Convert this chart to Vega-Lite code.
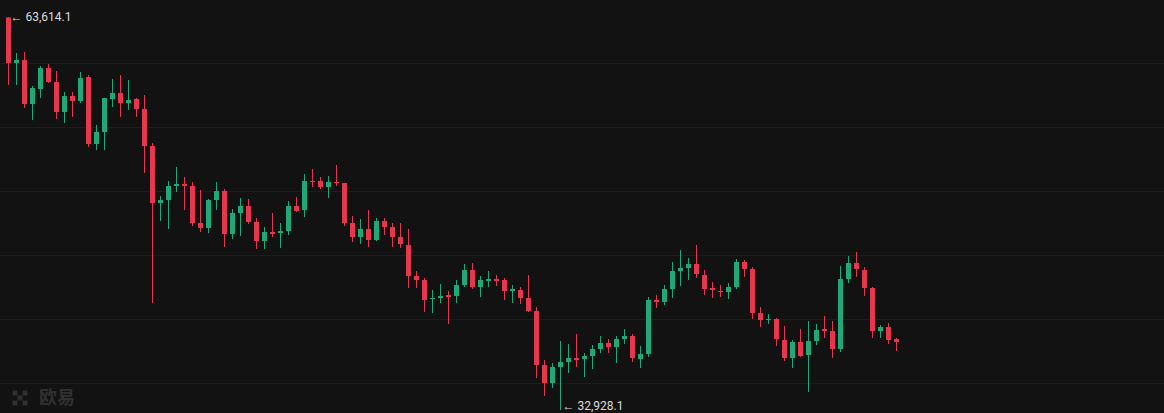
{
  "$schema": "https://vega.github.io/schema/vega-lite/v6.json",
  "width": 1164,
  "height": 413,
  "padding": 0,
  "autosize": {"type": "none"},
  "background": "#121212",
  "config": {"view": {"stroke": null}},
  "datasets": {
    "k": [
      {"i":0,"o":63600,"h":63614.1,"l":58320,"c":60039},
      {"i":1,"o":60039,"h":60820,"l":58320,"c":60274},
      {"i":2,"o":60274,"h":60899,"l":56524,"c":56836},
      {"i":3,"o":56836,"h":58242,"l":55586,"c":58086},
      {"i":4,"o":58008,"h":59805,"l":57305,"c":59649},
      {"i":5,"o":59649,"h":59961,"l":58477,"c":58555},
      {"i":6,"o":58555,"h":59414,"l":55664,"c":56211},
      {"i":7,"o":56211,"h":57774,"l":55352,"c":57461},
      {"i":8,"o":57461,"h":57774,"l":55820,"c":57070},
      {"i":9,"o":57070,"h":59336,"l":56914,"c":58867},
      {"i":10,"o":58945,"h":59102,"l":53477,"c":53711},
      {"i":11,"o":53711,"h":55195,"l":53242,"c":54649},
      {"i":12,"o":54649,"h":57320,"l":53242,"c":57305},
      {"i":13,"o":57227,"h":58789,"l":56602,"c":57695},
      {"i":14,"o":57695,"h":59102,"l":55820,"c":56914},
      {"i":15,"o":56914,"h":58711,"l":56367,"c":57149},
      {"i":16,"o":57227,"h":57305,"l":55820,"c":56445},
      {"i":17,"o":56445,"h":57539,"l":51445,"c":53555},
      {"i":18,"o":53555,"h":53789,"l":41289,"c":49102},
      {"i":19,"o":49102,"h":49649,"l":47695,"c":49336},
      {"i":20,"o":49336,"h":50820,"l":47070,"c":50430},
      {"i":21,"o":50430,"h":51914,"l":49961,"c":50586},
      {"i":22,"o":50586,"h":51133,"l":48555,"c":50430},
      {"i":23,"o":50430,"h":50742,"l":47305,"c":47539},
      {"i":24,"o":47539,"h":50117,"l":46836,"c":47149},
      {"i":25,"o":47149,"h":49414,"l":46758,"c":49336},
      {"i":26,"o":49336,"h":50742,"l":48555,"c":50039},
      {"i":27,"o":50039,"h":50195,"l":45664,"c":46680},
      {"i":28,"o":46680,"h":48633,"l":46289,"c":48320},
      {"i":29,"o":48320,"h":49492,"l":46524,"c":48867},
      {"i":30,"o":48867,"h":49414,"l":47461,"c":47617},
      {"i":31,"o":47617,"h":47930,"l":45508,"c":46133},
      {"i":32,"o":46133,"h":47227,"l":45508,"c":46836},
      {"i":33,"o":46836,"h":48320,"l":46445,"c":46680},
      {"i":34,"o":46758,"h":47539,"l":45586,"c":46914},
      {"i":35,"o":46914,"h":49258,"l":46602,"c":48867},
      {"i":36,"o":48867,"h":49570,"l":48399,"c":48477},
      {"i":37,"o":48555,"h":51367,"l":48008,"c":50820},
      {"i":38,"o":50820,"h":51758,"l":50352,"c":50742},
      {"i":39,"o":50820,"h":51133,"l":50195,"c":50352},
      {"i":40,"o":50352,"h":51211,"l":49492,"c":50742},
      {"i":41,"o":50742,"h":52070,"l":50430,"c":50664},
      {"i":42,"o":50664,"h":50680,"l":47305,"c":47539},
      {"i":43,"o":47539,"h":48086,"l":46055,"c":46445},
      {"i":44,"o":46445,"h":47852,"l":45899,"c":47070},
      {"i":45,"o":47070,"h":48555,"l":45664,"c":46211},
      {"i":46,"o":46211,"h":47930,"l":46133,"c":47695},
      {"i":47,"o":47695,"h":47930,"l":46602,"c":47227},
      {"i":48,"o":47227,"h":47539,"l":45664,"c":46445},
      {"i":49,"o":46445,"h":47539,"l":45586,"c":45899},
      {"i":50,"o":45820,"h":47070,"l":42461,"c":43399},
      {"i":51,"o":43399,"h":43789,"l":42461,"c":43086},
      {"i":52,"o":43086,"h":43242,"l":40586,"c":41524},
      {"i":53,"o":41602,"h":42305,"l":40508,"c":41680},
      {"i":54,"o":41680,"h":42774,"l":41289,"c":41836},
      {"i":55,"o":41914,"h":42227,"l":39649,"c":41758},
      {"i":56,"o":41836,"h":43086,"l":41289,"c":42695},
      {"i":57,"o":42695,"h":44336,"l":42539,"c":43867},
      {"i":58,"o":43867,"h":44414,"l":42383,"c":42539},
      {"i":59,"o":42539,"h":43399,"l":41758,"c":43086},
      {"i":60,"o":43008,"h":43789,"l":42539,"c":43164},
      {"i":61,"o":43164,"h":43477,"l":42617,"c":43008},
      {"i":62,"o":43086,"h":43242,"l":41524,"c":42227},
      {"i":63,"o":42227,"h":42695,"l":41289,"c":42383},
      {"i":64,"o":42305,"h":42539,"l":41211,"c":41680},
      {"i":65,"o":41680,"h":43477,"l":40586,"c":40664},
      {"i":66,"o":40664,"h":40977,"l":35430,"c":36445},
      {"i":67,"o":36445,"h":36836,"l":34024,"c":35039},
      {"i":68,"o":35039,"h":36602,"l":34649,"c":36289},
      {"i":69,"o":36289,"h":38320,"l":32928.1,"c":36680},
      {"i":70,"o":36680,"h":38086,"l":35820,"c":36992},
      {"i":71,"o":36992,"h":38867,"l":36289,"c":36836},
      {"i":72,"o":36914,"h":37383,"l":35508,"c":37149},
      {"i":73,"o":37149,"h":38008,"l":36133,"c":37695},
      {"i":74,"o":37695,"h":38711,"l":37383,"c":38164},
      {"i":75,"o":38164,"h":38477,"l":37383,"c":37852},
      {"i":76,"o":37852,"h":38711,"l":36602,"c":38477},
      {"i":77,"o":38477,"h":39258,"l":38086,"c":38711},
      {"i":78,"o":38711,"h":38867,"l":36680,"c":36992},
      {"i":79,"o":36914,"h":37930,"l":36211,"c":37305},
      {"i":80,"o":37305,"h":41758,"l":37070,"c":41524},
      {"i":81,"o":41524,"h":41914,"l":40899,"c":41367},
      {"i":82,"o":41367,"h":42695,"l":41133,"c":42383},
      {"i":83,"o":42383,"h":44492,"l":41680,"c":43789},
      {"i":84,"o":43789,"h":45430,"l":42617,"c":44024},
      {"i":85,"o":44024,"h":44805,"l":43086,"c":44336},
      {"i":86,"o":44336,"h":45820,"l":43242,"c":43555},
      {"i":87,"o":43477,"h":43867,"l":41914,"c":42383},
      {"i":88,"o":42461,"h":42930,"l":41680,"c":42305},
      {"i":89,"o":42227,"h":42695,"l":41758,"c":42149},
      {"i":90,"o":42149,"h":42852,"l":41602,"c":42539},
      {"i":91,"o":42539,"h":44727,"l":42383,"c":44492},
      {"i":92,"o":44492,"h":44649,"l":43320,"c":43945},
      {"i":93,"o":43945,"h":44102,"l":40039,"c":40508},
      {"i":94,"o":40508,"h":40977,"l":39414,"c":39961},
      {"i":95,"o":39961,"h":40430,"l":39649,"c":40039},
      {"i":96,"o":40039,"h":40117,"l":37930,"c":38477},
      {"i":97,"o":38399,"h":39492,"l":36758,"c":36992},
      {"i":98,"o":36992,"h":38399,"l":36211,"c":38242},
      {"i":99,"o":38242,"h":39258,"l":37070,"c":37149},
      {"i":100,"o":37227,"h":39883,"l":34336,"c":38320},
      {"i":101,"o":38320,"h":39649,"l":38008,"c":39180},
      {"i":102,"o":39258,"h":40274,"l":38555,"c":39102},
      {"i":103,"o":39102,"h":39883,"l":36992,"c":37695},
      {"i":104,"o":37695,"h":44180,"l":37461,"c":43164},
      {"i":105,"o":43164,"h":44961,"l":42852,"c":44414},
      {"i":106,"o":44414,"h":45274,"l":43320,"c":43945},
      {"i":107,"o":43867,"h":44102,"l":41836,"c":42461},
      {"i":108,"o":42461,"h":42539,"l":38555,"c":39102},
      {"i":109,"o":39102,"h":39570,"l":38555,"c":39414},
      {"i":110,"o":39414,"h":39727,"l":38086,"c":38399},
      {"i":111,"o":38477,"h":38555,"l":37539,"c":38242}
    ],
    "grid": [{"v":35000},{"v":40000},{"v":45000},{"v":50000},{"v":55000},{"v":60000}],
    "hi": [{"i":0,"p":63614.1,"t":"← 63,614.1"}],
    "lo": [{"i":69,"p":32928.1,"t":"← 32,928.1"}],
    "logo": [{"i":1.44,"p":33867}],
    "wm": [{"i":3.8,"p":33789,"t":"欧易"}]
  },
  "layer": [
    {
      "data": {"name": "grid"},
      "mark": {"type": "rule", "color": "#1e1e1e", "strokeWidth": 1},
      "encoding": {
        "y": {"field": "v", "type": "quantitative", "scale": {"domain": [32695.3, 64960.9], "nice": false, "zero": false, "padding": 0}, "axis": null}
      }
    },
    {
      "data": {"name": "logo"},
      "mark": {"type": "point", "filled": true, "size": 225, "opacity": 1, "color": "#2f2f2f",
        "shape": "M-1,-1H-0.34V-0.34H-1Z M0.34,-1H1V-0.34H0.34Z M-0.33,-0.33H0.33V0.33H-0.33Z M-1,0.34H-0.34V1H-1Z M0.34,0.34H1V1H0.34Z"},
      "encoding": {
        "x": {"field": "i", "type": "quantitative", "scale": {"domain": [-1.0625, 144.4375], "nice": false, "zero": false, "padding": 0}, "axis": null},
        "y": {"field": "p", "type": "quantitative", "axis": null}
      }
    },
    {
      "data": {"name": "wm"},
      "mark": {"type": "text", "align": "left", "baseline": "middle", "fontSize": 18, "font": "Noto Sans CJK SC", "fontWeight": "bold", "color": "#303030"},
      "encoding": {
        "x": {"field": "i", "type": "quantitative", "axis": null},
        "y": {"field": "p", "type": "quantitative", "axis": null},
        "text": {"field": "t"}
      }
    },
    {
      "data": {"name": "k"},
      "mark": {"type": "rule", "strokeWidth": 1},
      "encoding": {
        "x": {"field": "i", "type": "quantitative", "axis": null},
        "y": {"field": "l", "type": "quantitative", "axis": null},
        "y2": {"field": "h"},
        "color": {"condition": {"test": "datum.c >= datum.o", "value": "#20a878"}, "value": "#e5384f"}
      }
    },
    {
      "data": {"name": "k"},
      "mark": {"type": "bar", "size": 5},
      "encoding": {
        "x": {"field": "i", "type": "quantitative", "axis": null},
        "y": {"field": "o", "type": "quantitative", "axis": null},
        "y2": {"field": "c"},
        "color": {"condition": {"test": "datum.c >= datum.o", "value": "#20a878"}, "value": "#e5384f"}
      }
    },
    {
      "data": {"name": "hi"},
      "mark": {"type": "text", "align": "left", "baseline": "middle", "dx": 2, "fontSize": 12, "font": "Roboto", "color": "#dcdcdc"},
      "encoding": {
        "x": {"field": "i", "type": "quantitative", "axis": null},
        "y": {"field": "p", "type": "quantitative", "axis": null},
        "text": {"field": "t"}
      }
    },
    {
      "data": {"name": "lo"},
      "mark": {"type": "text", "align": "left", "baseline": "middle", "dx": 2, "dy": -4, "fontSize": 12, "font": "Roboto", "color": "#dcdcdc"},
      "encoding": {
        "x": {"field": "i", "type": "quantitative", "axis": null},
        "y": {"field": "p", "type": "quantitative", "axis": null},
        "text": {"field": "t"}
      }
    }
  ]
}
